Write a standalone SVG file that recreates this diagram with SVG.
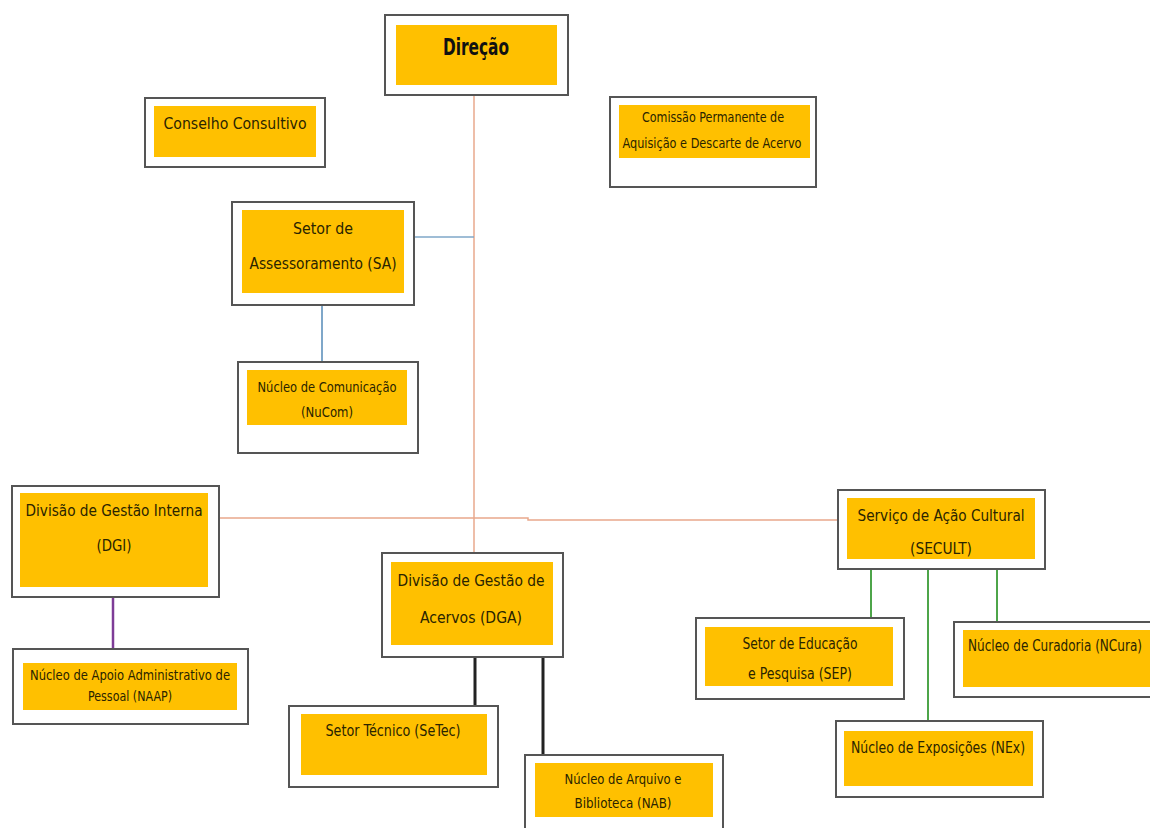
<svg xmlns="http://www.w3.org/2000/svg" width="1150" height="828" viewBox="0 0 1150 828">
<style>
.o{fill:#fff;stroke:#555;stroke-width:2}
.i{fill:#FFC000}
.t{font-family:"Liberation Sans Narrow","DejaVu Sans Condensed","Liberation Sans",sans-serif;font-size:16px;fill:#2a2400;text-anchor:middle;dominant-baseline:central}
.s{font-size:13.5px}
.b{font-weight:bold;font-size:23px;fill:#111}
.c{fill:none}
</style>
<rect width="1150" height="828" fill="#fff"/>
<g id="connectors" class="c">
<path d="M474,95V553" stroke="#E9A88C" stroke-width="1.5"/>
<path d="M219,518H528V520H838" stroke="#E9A88C" stroke-width="1.5"/>
<path d="M414,237H474" stroke="#7FA7C9" stroke-width="1.5"/>
<path d="M322,305V362" stroke="#7FA7C9" stroke-width="2"/>
<path d="M113,597V649" stroke="#7E3C97" stroke-width="2.5"/>
<path d="M475,657V706M543,657V755" stroke="#222" stroke-width="3"/>
<path d="M871,569V618M928,569V721M997,569V622" stroke="#4EA54A" stroke-width="2"/>
</g>
<g id="direcao"><rect class="o" x="385" y="15" width="183" height="80"/><rect class="i" x="396" y="25" width="161" height="60"/><text class="t b" x="476" y="47" textLength="66" lengthAdjust="spacingAndGlyphs">Direção</text></g>
<g id="conselho"><rect class="o" x="145" y="98" width="180" height="69"/><rect class="i" x="154" y="106" width="162" height="51"/><text class="t" x="235" y="123" textLength="143" lengthAdjust="spacingAndGlyphs">Conselho Consultivo</text></g>
<g id="comissao"><rect class="o" x="610" y="97" width="206" height="90"/><rect class="i" x="619" y="105" width="191" height="53"/><text class="t s" x="713" y="117" textLength="142" lengthAdjust="spacingAndGlyphs">Comissão Permanente de</text><text class="t s" x="712" y="143" textLength="179" lengthAdjust="spacingAndGlyphs">Aquisição e Descarte de Acervo</text></g>
<g id="sa"><rect class="o" x="232" y="202" width="182" height="103"/><rect class="i" x="242" y="210" width="162" height="83"/><text class="t" x="323" y="228" textLength="60" lengthAdjust="spacingAndGlyphs">Setor de</text><text class="t" x="323" y="263" textLength="147" lengthAdjust="spacingAndGlyphs">Assessoramento (SA)</text></g>
<g id="nucom"><rect class="o" x="238" y="362" width="180" height="91"/><rect class="i" x="247" y="370" width="160" height="55"/><text class="t s" x="327" y="387" textLength="139" lengthAdjust="spacingAndGlyphs">Núcleo de Comunicação</text><text class="t s" x="327" y="412" textLength="52" lengthAdjust="spacingAndGlyphs">(NuCom)</text></g>
<g id="dgi"><rect class="o" x="12" y="486" width="207" height="111"/><rect class="i" x="20" y="493" width="188" height="94"/><text class="t" x="114" y="510" textLength="177" lengthAdjust="spacingAndGlyphs">Divisão de Gestão Interna</text><text class="t" x="114" y="545" textLength="35" lengthAdjust="spacingAndGlyphs">(DGI)</text></g>
<g id="naap"><rect class="o" x="13" y="649" width="235" height="75"/><rect class="i" x="23" y="663" width="214" height="47"/><text class="t s" x="130" y="675" textLength="200" lengthAdjust="spacingAndGlyphs">Núcleo de Apoio Administrativo de</text><text class="t s" x="130" y="696" textLength="84" lengthAdjust="spacingAndGlyphs">Pessoal (NAAP)</text></g>
<g id="dga"><rect class="o" x="382" y="553" width="181" height="104"/><rect class="i" x="391" y="562" width="162" height="83"/><text class="t" x="471" y="580" textLength="147" lengthAdjust="spacingAndGlyphs">Divisão de Gestão de</text><text class="t" x="471" y="617" textLength="102" lengthAdjust="spacingAndGlyphs">Acervos (DGA)</text></g>
<g id="setec"><rect class="o" x="289" y="706" width="209" height="81"/><rect class="i" x="301" y="714" width="186" height="61"/><text class="t" x="393" y="730" textLength="135" lengthAdjust="spacingAndGlyphs">Setor Técnico (SeTec)</text></g>
<g id="nab"><rect class="o" x="525" y="755" width="198" height="80"/><rect class="i" x="535" y="763" width="178" height="54"/><text class="t s" x="623" y="779" textLength="117" lengthAdjust="spacingAndGlyphs">Núcleo de Arquivo e</text><text class="t s" x="623" y="803" textLength="97" lengthAdjust="spacingAndGlyphs">Biblioteca (NAB)</text></g>
<g id="secult"><rect class="o" x="838" y="490" width="207" height="79"/><rect class="i" x="847" y="498" width="188" height="61"/><text class="t" x="941" y="515" textLength="167" lengthAdjust="spacingAndGlyphs">Serviço de Ação Cultural</text><text class="t" x="941" y="548" textLength="62" lengthAdjust="spacingAndGlyphs">(SECULT)</text></g>
<g id="sep"><rect class="o" x="696" y="618" width="208" height="81"/><rect class="i" x="705" y="627" width="188" height="59"/><text class="t" x="800" y="643" textLength="115" lengthAdjust="spacingAndGlyphs">Setor de Educação</text><text class="t" x="800" y="673" textLength="104" lengthAdjust="spacingAndGlyphs">e Pesquisa (SEP)</text></g>
<g id="ncura"><rect class="o" x="954" y="622" width="197" height="75"/><rect class="i" x="963" y="630" width="188" height="57"/><text class="t" x="1142" y="646" style="font-size:15px;text-anchor:end" textLength="174" lengthAdjust="spacingAndGlyphs">Núcleo de Curadoria (NCura)</text></g>
<g id="nex"><rect class="o" x="836" y="721" width="207" height="76"/><rect class="i" x="844" y="731" width="189" height="55"/><text class="t" x="938" y="747" textLength="174" lengthAdjust="spacingAndGlyphs">Núcleo de Exposições (NEx)</text></g>
</svg>
